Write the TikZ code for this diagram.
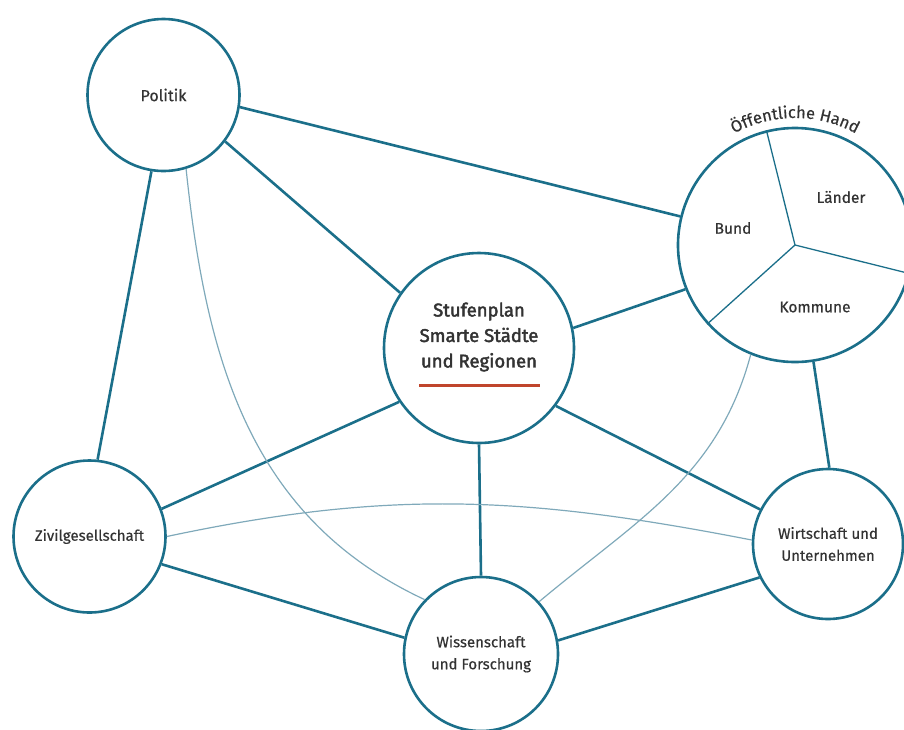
\documentclass[tikz,border=0pt]{standalone}
\usepackage{fontspec}
\setmainfont{Fira Sans}[FakeBold=0.5]
\newfontfamily\ctrfont{Fira Sans}[FakeBold=2.2]
\usetikzlibrary{decorations.text}
\definecolor{teal1}{HTML}{1B6F8A}
\definecolor{tealthin}{HTML}{7FA9BA}
\definecolor{txt}{HTML}{333333}
\definecolor{redline}{HTML}{C0452C}
\begin{document}
\begin{tikzpicture}[x=1pt,y=-1pt,
  bubble/.style={circle, draw=teal1, line width=2.6pt, fill=white, inner sep=0pt,
    text=txt, align=center, font=\fontsize{15}{22}\selectfont},
  link/.style={draw=teal1, line width=2.6pt},
  faint/.style={draw=tealthin, line width=1.2pt},
  divider/.style={draw=teal1, line width=1.3pt},
  lbl/.style={text=txt, font=\fontsize{15.5}{22}\selectfont, inner sep=0pt, align=center}]
\path[use as bounding box] (0,0) rectangle (904,729);

% circles
\node[bubble, minimum size=152pt, font=\fontsize{16}{22}\selectfont] (pol) at (163.5,95) {Politik};
\node[bubble, minimum size=234pt] (oeh) at (795,245) {};
\node[bubble, minimum size=190pt] (ctr) at (479,348) {};
\node[bubble, minimum size=152pt] (ziv) at (89.5,536.5) {Zivilgesellschaft};
\node[bubble, minimum size=154pt] (wis) at (481,654) {Wissenschaft\\und Forschung};
\node[bubble, minimum size=150pt] (wir) at (828,544) {Wirtschaft und\\Unternehmen};

% centre text
\node[text=txt, align=center, inner sep=0pt, font=\ctrfont\fontsize{18.5}{25.5}\selectfont] (ctrtext) at (479,337) {Stufenplan\\Smarte Städte\\und Regionen};
\coordinate (ul) at (419,385);
\coordinate (ur) at (540,385);
\draw[redline, line width=3pt] (ul) -- (ur);

% Öffentliche Hand parts
\draw[divider] (oeh.center) -- (oeh.104);
\draw[divider] (oeh.center) -- (oeh.-14);
\draw[divider] (oeh.center) -- (oeh.-138);
\node[lbl] (bund) at (733,228) {Bund};
\node[lbl] (laender) at (841,197) {Länder};
\node[lbl] (kommune) at (815,307) {Kommune};
\path[decorate, decoration={text along path, text color=txt,
    text={|\fontsize{16.5}{16.5}\selectfont|Öffentliche Hand}, text align=center}]
  (oeh.center) ++(150:127pt) arc[start angle=150, end angle=30, radius=127pt];

% thick connectors
\draw[link] (pol.-9) -- (oeh.166);
\draw[link] (pol.-37) -- (ctr.145);
\draw[link] (pol.-99) -- (ziv.84);
\draw[link] (ziv.21) -- (ctr.214);
\draw[link] (ziv.-21) -- (wis.168);
\draw[link] (ctr.-90) -- (wis.90);
\draw[link] (ctr.-37) -- (wir.153);
\draw[link] (ctr.12) -- (oeh.202);
\draw[link] (oeh.-81) -- (wir.89);
\draw[link] (wis.10) -- (wir.206);

% thin curved connectors
\draw[faint] (pol.-73) to[out=-84, in=155] (wis.136);
\draw[faint] (ziv.0) to[out=12, in=169] (wir.177);
\draw[faint] (oeh.-112) to[out=-105, in=40] (wis.42);
\end{tikzpicture}
\end{document}
